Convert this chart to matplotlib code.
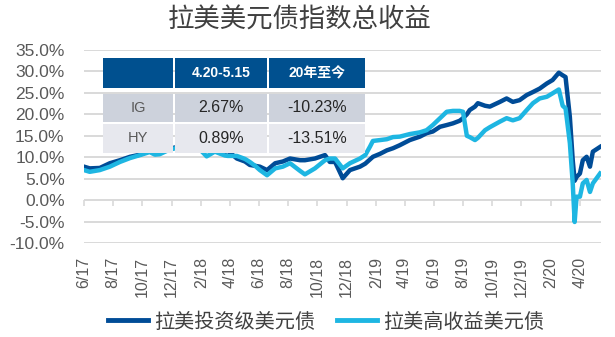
import matplotlib
matplotlib.use("Agg")
import matplotlib.pyplot as plt
import numpy as np
import pandas as pd
from matplotlib.patches import Rectangle

# index levels (cumulative total return, %)
dates = [
    "2017-06-01", "2017-06-13", "2017-07-04", "2017-07-25", "2017-08-15", "2017-09-05",
    "2017-09-26", "2017-10-16", "2017-10-27", "2017-11-06", "2017-11-27", "2017-12-18",
    "2018-01-08", "2018-01-29", "2018-02-12", "2018-03-01", "2018-03-22", "2018-03-28",
    "2018-04-16", "2018-05-03", "2018-05-13", "2018-05-24", "2018-06-03", "2018-06-18",
    "2018-07-05", "2018-07-21", "2018-08-05", "2018-08-26", "2018-09-05", "2018-09-26",
    "2018-10-17", "2018-10-27", "2018-11-07", "2018-11-23", "2018-12-08", "2018-12-29",
    "2019-01-09", "2019-01-19", "2019-01-25", "2019-02-09", "2019-02-23", "2019-03-08",
    "2019-03-22", "2019-04-12", "2019-05-03", "2019-05-17", "2019-05-30", "2019-06-14",
    "2019-06-28", "2019-07-11", "2019-07-25", "2019-08-01", "2019-08-09", "2019-08-15",
    "2019-08-26", "2019-09-01", "2019-09-16", "2019-09-26", "2019-10-17", "2019-10-31",
    "2019-11-13", "2019-11-27", "2019-12-12", "2019-12-25", "2020-01-08", "2020-01-23",
    "2020-02-04", "2020-02-17", "2020-02-25", "2020-03-02", "2020-03-11", "2020-03-17",
    "2020-03-21", "2020-03-25", "2020-04-01", "2020-04-07", "2020-04-15", "2020-04-22",
    "2020-04-28", "2020-05-13",
]
ig_ret = [
    7.8, 7.4, 7.5, 8.6, 9.3, 10.1,
    10.6, 11.5, 11.2, 11.8, 12.0, 12.5,
    12.8, 12.0, 11.5, 11.8, 11.2, 11.5,
    9.7, 9.0, 8.2, 8.0, 7.8, 7.0,
    8.6, 9.0, 9.7, 9.3, 9.3, 9.7,
    10.5, 8.9, 8.9, 5.1, 7.0, 7.8,
    8.5, 9.5, 10.1, 10.8, 11.6, 12.1,
    12.8, 14.0, 14.8, 15.6, 16.0, 17.1,
    17.5, 17.9, 18.5, 19.1, 20.0, 21.0,
    21.8, 22.6, 22.0, 21.8, 22.9, 23.7,
    22.9, 23.3, 24.5, 25.2, 26.0, 27.2,
    28.0, 29.7, 29.1, 28.7, 19.4, 9.3,
    4.5, 5.4, 6.2, 9.3, 10.1, 7.8,
    11.3, 12.4,
]
hy_ret = [
    7.0, 6.6, 7.0, 7.8, 8.9, 9.8,
    10.5, 11.2, 10.6, 10.7, 11.8, 12.3,
    12.8, 11.8, 10.2, 11.3, 10.4, 10.3,
    10.3, 9.6, 8.9, 8.0, 7.0, 5.8,
    7.4, 7.8, 8.6, 6.8, 6.0, 7.4,
    9.3, 9.7, 9.7, 7.4, 8.6, 9.7,
    10.5, 12.5, 13.8, 14.0, 14.2, 14.7,
    14.8, 15.4, 15.8, 16.3, 17.5, 19.1,
    20.6, 20.8, 20.8, 20.6, 15.0, 14.7,
    14.0, 14.5, 16.3, 17.0, 18.3, 19.1,
    18.6, 19.1, 21.0, 22.6, 23.7, 24.1,
    24.9, 25.8, 22.0, 21.4, 13.3, 3.9,
    -5.1, 0.8, 0.8, 3.9, 4.7, 1.9,
    3.9, 6.2,
]
tick_labels = ["6/17", "8/17", "10/17", "12/17", "2/18", "4/18", "6/18", "8/18", "10/18",
               "12/18", "2/19", "4/19", "6/19", "8/19", "10/19", "12/19", "2/20", "4/20"]
series_names = ["拉美投资级美元债", "拉美高收益美元债"]

table_header = ["", "4.20-5.15", "20年至今"]
table_rows = ["IG", "HY"]
period_ret = ["2.67%", "0.89%"]
ytd_ret = ["-10.23%", "-13.51%"]

DARK = "#004C97"
LIGHT = "#1EB6E2"
GRID = "#D9D9D9"
TXT = "#595959"
CJK = ["Noto Sans CJK SC", "DejaVu Sans"]
LAT = ["Liberation Sans", "Noto Sans CJK SC"]

W, H = 615, 337
fig = plt.figure(figsize=(W / 100, H / 100), dpi=100)


def fx(x):
    return x / W


def fy(y):
    return 1 - y / H


ax = fig.add_axes([fx(84), fy(243), fx(601) - fx(84), fy(50) - fy(243)])

x = pd.to_datetime(dates)
ax.plot(x, ig_ret, color=DARK, lw=3.2, solid_joinstyle="round", label=series_names[0], zorder=3)
ax.plot(x, hy_ret, color=LIGHT, lw=3.2, solid_joinstyle="round", label=series_names[1], zorder=4)

ax.set_xlim(pd.Timestamp("2017-06-01"), pd.Timestamp("2020-05-15"))
ax.set_ylim(-10, 35)
for s in ax.spines.values():
    s.set_visible(False)

yt = np.arange(-10, 36, 5)
ax.set_yticks(yt)
ax.set_yticklabels([f"{v:.1f}%" for v in yt], family=LAT, fontsize=12.5, color=TXT)
ax.tick_params(axis="y", length=0, pad=14)
ax.yaxis.grid(True, color=GRID, lw=1.4)
ax.set_axisbelow(True)

tick_dates = pd.date_range("2017-06-01", periods=len(tick_labels), freq="2MS")
ax.set_xticks(tick_dates)
ax.set_xticklabels(tick_labels, rotation=90, family=LAT, fontsize=11.5, color=TXT)
ax.tick_params(axis="x", length=0, pad=10)

# small tick marks sit on the 0% line
sec = ax.secondary_xaxis(10 / 45)
sec.set_xticks(tick_dates)
sec.tick_params(length=4, width=1.2, color=GRID, labelbottom=False)
for s in sec.spines.values():
    s.set_visible(False)

fig.text(fx(300), fy(20), "拉美美元债指数总收益", family=CJK, fontsize=19, color="#404040",
         ha="center", va="center")

leg = fig.legend(loc="center", bbox_to_anchor=(fx(326), fy(322)), ncol=2, frameon=False,
                 prop={"family": CJK, "size": 14.5}, handlelength=2.0, handletextpad=0.3,
                 columnspacing=1.1)
for t in leg.get_texts():
    t.set_color("#404040")
for h in leg.legend_handles:
    h.set_linewidth(3.5)

# summary table over the upper left of the plot
col_x = [(103, 173), (175, 267), (269, 365)]
row_y = [(58, 88), (94, 122), (124, 153)]
fills = ["#00508F", "#CDD2DC", "#E7E8EE"]

for r, (y0, y1) in enumerate(row_y):
    for c, (x0, x1) in enumerate(col_x):
        fig.add_artist(Rectangle((fx(x0), fy(y1)), fx(x1) - fx(x0), fy(y0) - fy(y1),
                                 transform=fig.transFigure, facecolor=fills[r],
                                 edgecolor="none", zorder=5))

for c, (x0, x1) in enumerate(col_x):
    fig.text(fx((x0 + x1) / 2), fy(73), table_header[c], family=LAT, fontsize=10,
             weight="bold", color="white", ha="center", va="center", zorder=6)

for r in range(len(table_rows)):
    yc = (row_y[r + 1][0] + row_y[r + 1][1]) / 2
    fig.text(fx(138), fy(yc), table_rows[r], family=LAT, fontsize=10.5, color=TXT,
             ha="center", va="center", zorder=6)
    fig.text(fx(221), fy(yc), period_ret[r], family=LAT, fontsize=11.5, color="#262626",
             ha="center", va="center", zorder=6)
    fig.text(fx(317), fy(yc), ytd_ret[r], family=LAT, fontsize=11.5, color="#262626",
             ha="center", va="center", zorder=6)

fig.savefig("out.png", dpi=100)
